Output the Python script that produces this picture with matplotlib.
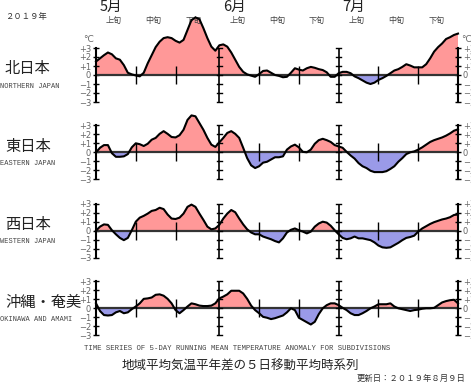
import matplotlib.pyplot as plt
import matplotlib.transforms as mtransforms
import numpy as np

plt.rcParams['font.family'] = ['Noto Sans CJK JP', 'DejaVu Sans']

# days from May 1 (0) to Jul 31 (91)
days = np.arange(92)
month_starts = [0, 31, 61]
month_names = ['5月', '6月', '7月']
dekad_names = ['上旬', '中旬', '下旬']

regions_jp = ['北日本', '東日本', '西日本', '沖縄・奄美']
regions_en = ['NORTHERN JAPAN', 'EASTERN JAPAN', 'WESTERN JAPAN', 'OKINAWA AND AMAMI']

north = [1.5, 1.85, 2.2, 2.5, 2.3, 1.85, 1.7, 1.1, 0.25, 0.07,
         -0.05, -0.15, 0.25, 1.3, 2.2, 3.1, 3.7, 4.1, 4.2, 4.1,
         3.8, 3.6, 3.9, 5.0, 6.1, 6.4, 6.2, 5.2, 4.1, 3.15,
         2.7, 3.3, 3.4, 3.15, 2.5, 1.7, 0.9, 0.35, 0.07, -0.07,
         -0.2, 0.1, 0.45, 0.5, 0.25, 0.0, -0.1, -0.25, -0.2, 0.25,
         0.75, 0.6, 0.5, 0.75, 0.9, 0.8, 0.65, 0.55, 0.3, -0.2,
         -0.2, 0.2, 0.35, 0.35, 0.2, -0.15, -0.35, -0.6, -0.85, -1.0,
         -0.85, -0.55, -0.35, -0.1, 0.2, 0.5, 0.65, 0.9, 1.2, 1.05,
         0.85, 0.85, 0.85, 1.2, 1.85, 2.6, 3.1, 3.5, 4.0, 4.2,
         4.45, 4.6]
east = [0.0, 0.5, 0.8, 0.8, -0.1, -0.5, -0.5, -0.45, -0.2, 0.55,
        1.0, 0.9, 0.7, 0.95, 1.4, 1.6, 2.05, 2.35, 2.05, 1.7,
        1.65, 1.9, 2.5, 3.6, 4.1, 4.0, 3.25, 2.5, 1.6, 0.85,
        0.6, 1.1, 1.6, 2.15, 2.35, 2.05, 1.6, 0.5, -0.65, -1.45,
        -1.75, -1.55, -1.15, -1.05, -0.8, -0.55, -0.55, -0.45, 0.3, 0.65,
        0.85, 0.55, 0.05, 0.0, 0.3, 0.95, 1.35, 1.5, 1.35, 1.15,
        0.8, 0.65, 0.5, 0.05, -0.35, -0.7, -1.2, -1.55, -1.75, -2.05,
        -2.2, -2.2, -2.2, -2.1, -1.85, -1.55, -1.05, -0.65, -0.2, 0.0,
        0.1, 0.3, 0.55, 0.85, 1.15, 1.35, 1.5, 1.65, 1.85, 2.1,
        2.4, 2.55]
west = [0.0, 0.45, 0.7, 0.65, 0.05, -0.4, -0.8, -1.05, -0.8, 0.05,
        1.0, 1.45, 1.65, 1.9, 2.2, 2.3, 2.55, 2.4, 1.8, 1.35,
        1.3, 1.45, 1.9, 2.65, 2.9, 2.65, 1.9, 1.2, 0.45, 0.15,
        0.25, 0.65, 1.35, 1.9, 2.3, 2.05, 1.35, 0.7, 0.15, -0.2,
        -0.4, -0.4, -0.65, -0.8, -0.95, -1.15, -1.3, -0.85, -0.2, 0.1,
        0.25, 0.05, -0.1, -0.3, -0.1, 0.45, 0.8, 1.0, 0.9, 0.55,
        0.05, -0.4, -0.8, -0.95, -0.85, -0.65, -0.85, -0.85, -0.95, -1.05,
        -1.3, -1.65, -1.85, -1.9, -1.85, -1.6, -1.35, -1.05, -0.8, -0.7,
        -0.55, -0.1, 0.25, 0.5, 0.75, 0.95, 1.1, 1.25, 1.35, 1.5,
        1.75, 1.8]
okinawa = [0.55, -0.3, -0.75, -0.8, -0.75, -0.45, -0.3, -0.55, -0.45, -0.1,
           0.2, 0.55, 1.05, 1.1, 1.2, 1.5, 1.55, 1.4, 1.05, 0.55,
           -0.2, -0.55, -0.2, 0.2, 0.55, 0.45, 0.3, 0.25, 0.25, 0.3,
           0.55, 1.1, 1.3, 1.55, 1.95, 1.95, 1.95, 1.65, 1.05, 0.3,
           -0.2, -0.55, -0.95, -1.05, -1.2, -1.1, -0.95, -0.8, -0.45, 0.0,
           -0.2, -1.05, -1.3, -1.55, -1.8, -1.5, -0.65, 0.0, 0.35, 0.55,
           0.55, 0.35, 0.05, -0.2, -0.55, -0.75, -0.75, -0.55, -0.3, 0.0,
           0.2, 0.45, 0.45, 0.45, 0.55, 0.2, 0.0, -0.1, -0.2, -0.3,
           -0.2, -0.15, -0.05, 0.0, 0.0, 0.05, 0.35, 0.65, 0.8, 0.9,
           0.95, 0.55]
series = [north, east, west, okinawa]

W, H = 471, 382
fig = plt.figure(figsize=(W / 100, H / 100), dpi=100)

zero_px = [75, 152.3, 230.7, 308.3]  # pixel row of zero line
unit = 9.0  # pixels per degree
ylo, yhi = -4, 7
ticks = [-3, -2, -1, 0, 1, 2, 3]
ticklabels = ['+3', '+2', '+1', '0', '\u22121', '\u22122', '\u22123'][::-1]
ticklabels = ['\u22123', '\u22122', '\u22121', '0', '+1', '+2', '+3']
label_gray = '#666666'

axes = []
for i, vals in enumerate(series):
    bottom = H - (zero_px[i] - ylo * unit)
    ax = fig.add_axes([96 / W, bottom / H, 362 / W, (yhi - ylo) * unit / H])
    ax.set_facecolor('none')
    ax.set_xlim(0, 91)
    ax.set_ylim(ylo, yhi)
    y = np.array(vals)
    ax.fill_between(days, y, 0, where=y >= 0, interpolate=True,
                    color='#ff9898', lw=0, clip_on=False)
    ax.fill_between(days, y, 0, where=y <= 0, interpolate=True,
                    color='#9a9ae8', lw=0, clip_on=False)
    ax.axhline(0, color='#333333', lw=1.6, zorder=3)
    ax.plot(days, y, color='black', lw=1.5, zorder=4, clip_on=False)

    # month separators with little ticks
    for m in month_starts[1:]:
        ax.vlines(m, -3, 3, color='black', lw=1.2, zorder=5)
        for t in ticks:
            ax.plot([m - 0.6, m + 0.6], [t, t], color='black', lw=1.0, zorder=5)
    # dekad separators
    for m in month_starts:
        for d in (10, 20):
            ax.vlines(m + d, -1, 1, color='black', lw=1.0, zorder=5)

    for side in ('top', 'bottom'):
        ax.spines[side].set_visible(False)
    for side in ('left', 'right'):
        ax.spines[side].set_bounds(-3, 3)
        ax.spines[side].set_linewidth(1.5)
        ax.spines[side].set_zorder(6)
    ax.set_xticks([])
    ax.set_yticks(ticks)
    ax.set_yticklabels(ticklabels)
    ax.tick_params(axis='y', direction='inout', length=5, width=1.0,
                   labelsize=6, labelcolor=label_gray, pad=1,
                   left=True, right=True, labelleft=True, labelright=True)
    for lab in ax.get_yticklabels():
        lab.set_family('DejaVu Sans')
    for lab in ax.yaxis.get_ticklabels(which='major'):
        lab.set_family('DejaVu Sans')

    fig.text(5 / W, 1 - (zero_px[i] - 6) / H, regions_jp[i], fontsize=11,
             ha='left', va='center', color='#222222')
    fig.text(0 / W, 1 - (zero_px[i] + 11) / H, regions_en[i], fontsize=5,
             family='Liberation Mono', ha='left', va='center', color='#444444')
    axes.append(ax)

# headers above the first panel
ax1 = axes[0]
tr = mtransforms.blended_transform_factory(ax1.transData, fig.transFigure)
for m, name in zip(month_starts, month_names):
    ax1.text(m + 3.8, 1 - 7 / H, name, transform=tr, fontsize=10.5,
             ha='center', va='center', color='#222222')
    for k, dn in enumerate(dekad_names):
        ax1.text(m + 10 * k + 4.5, 1 - 20 / H, dn, transform=tr, fontsize=5.8,
                 ha='center', va='center', color='#444444')

fig.text(83 / W, 1 - 39 / H, '°C', fontsize=6.5, color=label_gray,
         ha='left', va='center', family='DejaVu Sans')
fig.text(461 / W, 1 - 39 / H, '°C', fontsize=6.5, color=label_gray,
         ha='left', va='center', family='DejaVu Sans')
fig.text(5 / W, 1 - 16 / H, '２０１９年', fontsize=6, color='#333333',
         ha='left', va='center')

fig.text(237 / W, 1 - 348 / H,
         'TIME SERIES OF 5-DAY RUNNING MEAN TEMPERATURE ANOMALY FOR SUBDIVISIONS',
         fontsize=5.2, family='Liberation Mono', color='#444444',
         ha='center', va='center')
fig.text(240 / W, 1 - 366 / H, '地域平均気温平年差の５日移動平均時系列',
         fontsize=9, color='#222222', ha='center', va='center')
fig.text(466 / W, 1 - 378 / H, '更新日：２０１９年８月９日', fontsize=6,
         color='#333333', ha='right', va='center')

fig.savefig('out.png', dpi=100)
